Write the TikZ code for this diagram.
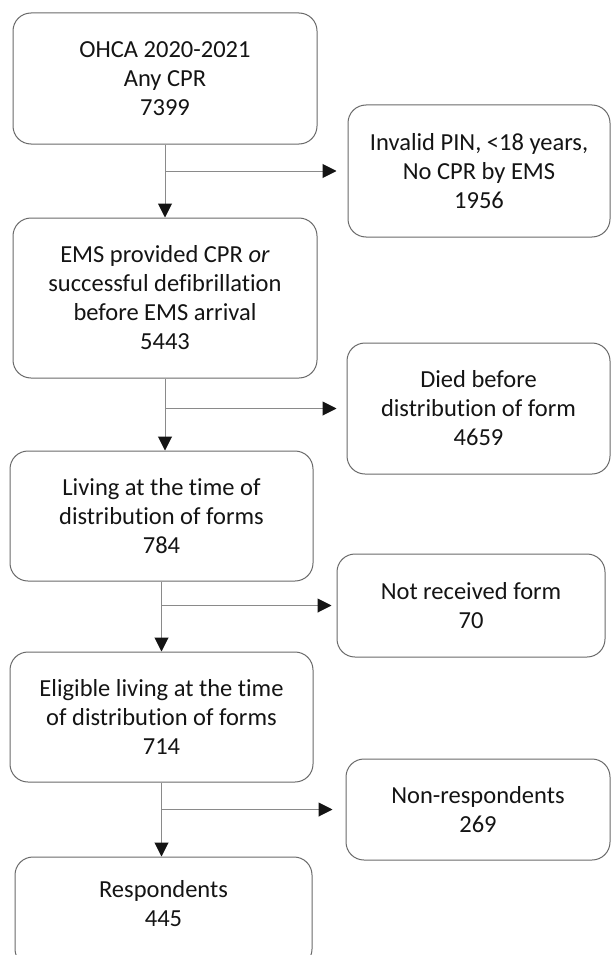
\documentclass[tikz,border=0pt]{standalone}
\usepackage{fontspec}
\setmainfont{Carlito}[Ligatures={NoCommon,NoContextual,NoRequired}]
\usetikzlibrary{arrows.meta,calc}
\definecolor{boxline}{HTML}{6A6A6A}
\definecolor{conngray}{HTML}{8A8A8A}
\definecolor{ink}{HTML}{141414}
\begin{document}
\begin{tikzpicture}[x=1pt,y=-1pt,
  flowbox/.style={draw=boxline, line width=1pt, rounded corners=18pt, align=center,
    font=\fontsize{24.5}{29}\selectfont, text=ink, inner sep=0pt},
  conn/.style={draw=conngray, line width=1pt, -{Triangle[length=14pt,width=14pt,color=ink]}}]
\useasboundingbox (0,0) rectangle (611,955);
\fill[white] (0,0) rectangle (611,955);

\node[flowbox, minimum width=304pt, minimum height=131pt] (ohca) at (165,78.5)
  {OHCA 2020-2021\\Any CPR\\7399};
\node[flowbox, minimum width=262pt, minimum height=132pt] (invalid) at (479,171)
  {Invalid PIN, <18 years,\\No CPR by EMS\\1956};
\node[flowbox, minimum width=304pt, minimum height=160pt] (ems) at (165,298)
  {EMS provided CPR \textit{or}\\successful defibrillation\\before EMS arrival\\5443};
\node[flowbox, minimum width=263pt, minimum height=131pt] (died) at (478.5,408.5)
  {Died before\\distribution of form\\4659};
\node[flowbox, minimum width=303pt, minimum height=130pt] (living) at (161.5,516)
  {Living at the time of\\distribution of forms\\784};
\node[flowbox, minimum width=268pt, minimum height=103pt] (notrec) at (471,605.5)
  {Not received form\\70};
\node[flowbox, minimum width=303pt, minimum height=130pt] (eligible) at (161.5,717)
  {Eligible living at the time\\of distribution of forms\\714};
\node[flowbox, minimum width=264pt, minimum height=101pt] (nonresp) at (478,809.5)
  {Non-respondents\\269};
\node[flowbox, minimum width=297pt, minimum height=110pt] (resp) at (163.5,912)
  {Respondents\\445\rule[-18pt]{0pt}{18pt}};

\draw[conn] (ohca.south) -- (ohca.south |- ems.north);
\draw[conn] (ohca.south |- invalid.west) -- ([xshift=-11pt]invalid.west);
\draw[conn] (ems.south) -- (ems.south |- living.north);
\draw[conn] (ems.south |- died.west) -- ([xshift=-10pt]died.west);
\draw[conn] (living.south) -- (living.south |- eligible.north);
\draw[conn] (living.south |- notrec.west) -- ([xshift=-5pt]notrec.west);
\draw[conn] (eligible.south) -- (eligible.south |- resp.north);
\draw[conn] (eligible.south |- nonresp.west) -- ([xshift=-13pt]nonresp.west);
\end{tikzpicture}
\end{document}
